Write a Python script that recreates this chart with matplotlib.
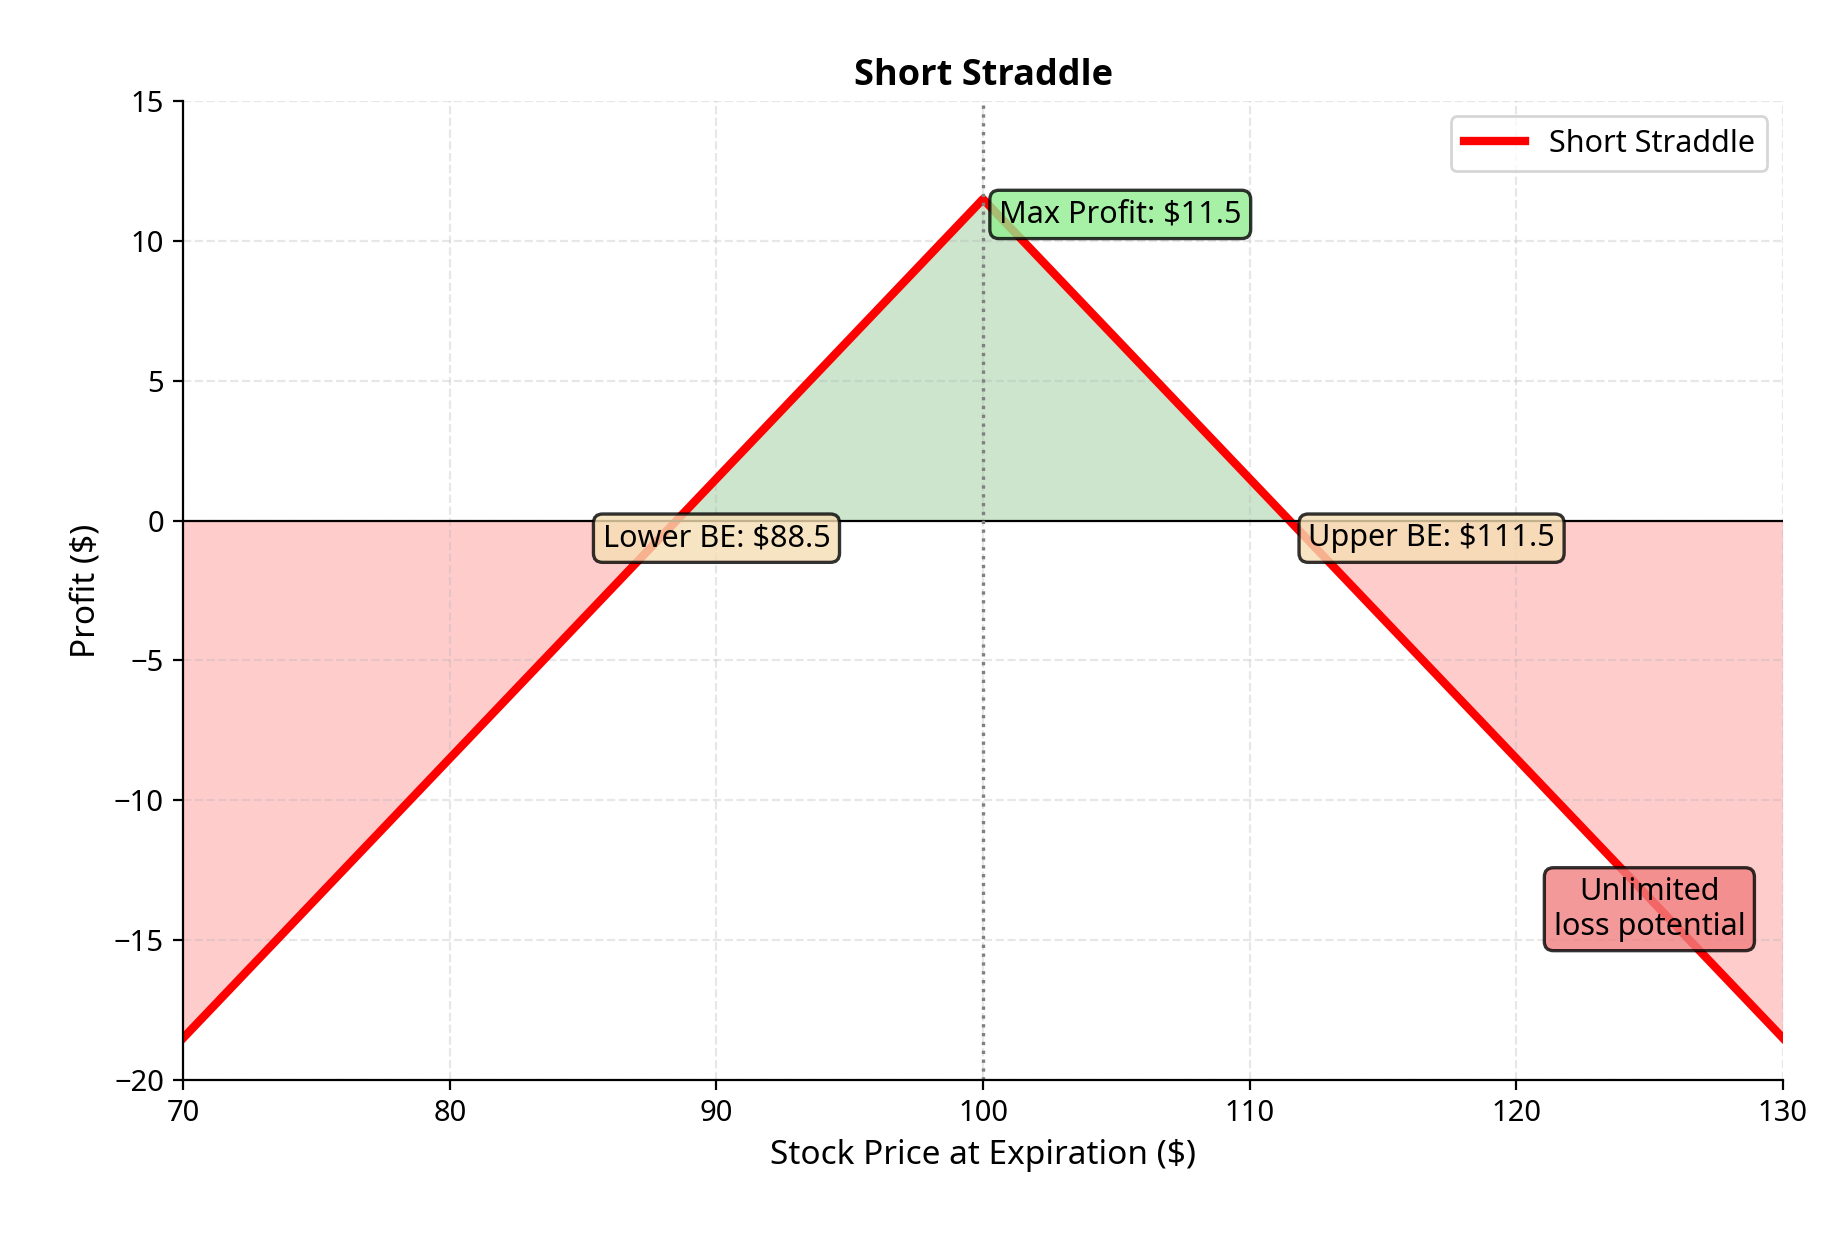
import numpy as np
import matplotlib.pyplot as plt

plt.rcParams['font.family'] = ['Noto Sans', 'DejaVu Sans']

# payoff at expiration
prices = [70, 88.5, 100, 111.5, 130]
profit = [-18.5, 0, 11.5, 0, -18.5]
strike = 100
max_profit = 11.5
lower_be = 88.5
upper_be = 111.5

x = np.array(prices)
y = np.array(profit)

fig, ax = plt.subplots(figsize=(9.17, 6.17), dpi=200)

# fill profit / loss regions, split at break-evens
ax.fill_between(x[1:4], y[1:4], 0, color='green', alpha=0.2, linewidth=0)
ax.fill_between(x[:2], y[:2], 0, color='red', alpha=0.2, linewidth=0)
ax.fill_between(x[3:], y[3:], 0, color='red', alpha=0.2, linewidth=0)

ax.plot(x, y, color='red', linewidth=3, label='Short Straddle')
ax.axhline(0, color='black', linewidth=0.8)
ax.axvline(strike, color='gray', linestyle=':', linewidth=1.2)

box = dict(boxstyle='round,pad=0.3', edgecolor='black', alpha=0.8, linewidth=1.2)
ax.text(strike + 0.6, 10.95, f'Max Profit: ${max_profit}', fontsize=11,
        va='center', ha='left', bbox=dict(box, facecolor='lightgreen'))
ax.text(lower_be + 1.5, -0.63, f'Lower BE: ${lower_be}', fontsize=11, va='center', ha='center',
        bbox=dict(box, facecolor='wheat'))
ax.text(upper_be + 0.7, -0.63, f'Upper BE: ${upper_be}', fontsize=11, va='center', ha='left',
        bbox=dict(box, facecolor='wheat'))
ax.text(125, -13.9, 'Unlimited\nloss potential', fontsize=11, va='center', ha='center',
        bbox=dict(box, facecolor='lightcoral'))

ax.set_xlim(70, 130)
ax.set_ylim(-20, 15)
ax.set_xlabel('Stock Price at Expiration ($)', fontsize=12)
ax.set_ylabel('Profit ($)', fontsize=12)
ax.set_title('Short Straddle', fontsize=13, fontweight='bold', family=['Open Sans', 'DejaVu Sans'])
ax.grid(True, linestyle='--', alpha=0.3)
ax.spines['top'].set_visible(False)
ax.spines['right'].set_visible(False)
ax.tick_params(labelsize=10.5)
ax.legend(loc='upper right', fontsize=11)

plt.tight_layout()
plt.subplots_adjust(left=0.1, right=0.972, top=0.918, bottom=0.125)
plt.savefig('out.png', dpi=200)
